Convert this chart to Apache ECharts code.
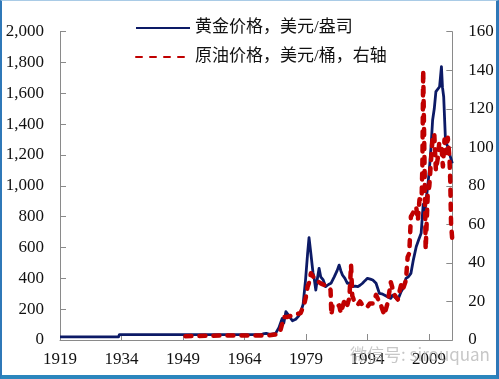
<!DOCTYPE html>
<html>
<head>
<meta charset="utf-8">
<script src="https://cdn.jsdelivr.net/npm/echarts@6/dist/echarts.min.js"></script>
<style>
html,body{margin:0;padding:0;background:#fff;}
#wrap{position:relative;width:499px;height:379px;overflow:hidden;}
#chart{position:absolute;left:0;top:0;width:499px;height:379px;}
#frame{position:absolute;left:0;top:0;width:499px;height:379px;box-sizing:border-box;
  border-left:2px solid #2f78b8;border-right:3px solid #2f78b8;border-top:1px solid #a9cbe6;border-bottom:4px solid #2b86bd;pointer-events:none;}
</style>
</head>
<body>
<div id="wrap"><div id="chart"></div><div id="frame"></div></div>
<script>
// ---- data ----
var xStartYear = 1919;
var xTickYears = ['1919','1934','1949','1964','1979','1994','2009'];
var leftTicks = ['0','200','400','600','800','1,000','1,200','1,400','1,600','1,800','2,000'];
var rightTicks = ['0','20','40','60','80','100','120','140','160'];
var goldName = '黄金价格，美元/盎司';
var oilName = '原油价格，美元/桶，右轴';

var goldYears = [1919.0,1933.3,1933.5,1968.0,1968.5,1969.3,1970.2,1971.0,1971.6,1972.4,1973.2,1973.6,1974.1,1974.9,1975.7,1976.5,1977.2,1977.7,1978.3,1978.9,1979.4,1979.75,1980.2,1980.7,1981.0,1981.4,1981.8,1982.2,1982.6,1983.2,1983.8,1984.5,1985.1,1985.9,1986.6,1987.1,1987.5,1987.9,1988.5,1989.1,1989.8,1990.4,1991.0,1991.6,1992.2,1992.8,1993.4,1994.0,1994.7,1995.3,1996.1,1996.9,1997.5,1998.1,1998.9,1999.7,2000.1,2000.6,2001.4,2002.2,2002.6,2003.4,2004.0,2004.6,2005.2,2005.9,2006.5,2007.1,2007.6,2008.0,2008.3,2008.7,2009.1,2009.5,2009.9,2010.3,2010.7,2011.1,2011.6,2011.8,2012.05,2012.3,2012.6,2013.0,2013.2,2013.6,2014.0,2014.3,2014.7];
var goldValues = [20.67,20.67,35,35,39,43,36,40,43,80,140,110,184,155,125,135,155,180,230,390,560,664,560,440,400,324,400,465,410,390,346,360,368,410,450,486,450,422,400,368,370,346,350,346,355,368,385,400,395,389,368,303,300,292,280,270,290,281,259,313,330,400,410,432,520,605,650,692,880,820,908,995,1103,1250,1427,1500,1611,1600,1643,1700,1773,1640,1578,1319,1276,1254,1211,1200,1146];

var oilYears = [1949.6,1952.0,1955.0,1958.0,1961.0,1964.0,1967.0,1970.0,1971.5,1972.6,1973.4,1973.6,1974.5,1976.1,1977.7,1978.1,1978.5,1979.0,1979.4,1979.8,1980.2,1980.6,1981.4,1981.8,1982.6,1983.0,1984.3,1985.0,1985.2,1985.5,1986.3,1986.7,1987.1,1987.5,1988.3,1988.7,1989.1,1989.6,1990.0,1990.3,1990.8,1991.6,1992.2,1992.8,1993.4,1994.0,1994.6,1995.3,1996.1,1996.5,1997.3,1997.7,1998.1,1998.5,1998.9,1999.7,2000.1,2000.6,2000.9,2001.4,2001.8,2002.2,2002.6,2003.4,2003.8,2004.2,2004.6,2005.5,2005.9,2006.3,2006.7,2007.2,2007.4,2007.6,2007.8,2008.0,2008.2,2008.7,2009.1,2009.5,2009.9,2010.3,2010.7,2011.2,2011.5,2012.0,2012.4,2012.8,2013.2,2013.6,2014.0,2014.2,2014.4,2014.7];
var oilValues = [2.0,2.1,2.2,2.3,2.3,2.3,2.3,2.4,2.8,3.6,10,12,12,13,14,14,18,22.5,27.7,30,34.6,34.6,31,30,29.4,28.5,27.7,26,13,18,17,16.4,18,14,19.9,21,18.2,22,39,23,20,18.2,20,18,17,17.3,19,19,23.4,23,18,19,13,13.9,19,30,29,23.4,24,21,25,28.5,26,31,43,45,64,67.5,69,62,73,72.7,90,140,110,80,47,75,80,93,105,107,88,95,102,102,90,104,97,105,95,83,60,52];

function pairs(xs, ys){ var out=[]; for(var i=0;i<xs.length;i++){ out.push([xs[i]-xStartYear, ys[i]]); } return out; }

var chart = echarts.init(document.getElementById('chart'), null, {renderer:'canvas'});
var serif = "'Liberation Serif','Noto Sans CJK SC',serif";
var axisGray = '#8a8a8a';
chart.setOption({
  animation:false,
  backgroundColor:'#ffffff',
  grid:{left:60, right:46.7, top:31.7, bottom:39, containLabel:false},
  legend:{
    orient:'vertical', left:130, top:13, itemWidth:54, itemHeight:20, itemGap:9,
    itemStyle:{opacity:0},
    textStyle:{fontFamily:serif, fontSize:17, color:'#111', lineHeight:20},
    data:[{name:goldName},{name:oilName}]
  },
  xAxis:{
    type:'value', min:0, max:95.7, interval:15,
    axisLine:{show:true, lineStyle:{color:axisGray, width:1}},
    axisTick:{show:true, inside:true, length:6, lineStyle:{color:axisGray}},
    splitLine:{show:false},
    axisLabel:{margin:11, fontFamily:serif, fontSize:17, color:'#111', showMaxLabel:false,
      formatter:function(v){ var k=Math.round(v/15); return Math.abs(v-k*15)<1e-6 && xTickYears[k] ? xTickYears[k] : ''; }}
  },
  yAxis:[{
    type:'value', min:0, max:2000, interval:200, position:'left',
    axisLine:{show:true, lineStyle:{color:axisGray, width:1}},
    axisTick:{show:true, inside:true, length:6, lineStyle:{color:axisGray}},
    splitLine:{show:false},
    axisLabel:{margin:16, fontFamily:serif, fontSize:17, color:'#111',
      formatter:function(v){ return leftTicks[Math.round(v/200)]; }}
  },{
    type:'value', min:0, max:160, interval:20, position:'right',
    axisLine:{show:true, lineStyle:{color:axisGray, width:1}},
    axisTick:{show:true, inside:true, length:6, lineStyle:{color:axisGray}},
    splitLine:{show:false},
    axisLabel:{margin:16, fontFamily:serif, fontSize:17, color:'#111',
      formatter:function(v){ return rightTicks[Math.round(v/20)]; }}
  }],
  series:[{
    name:goldName, type:'line', yAxisIndex:0, showSymbol:false, symbol:'none',
    data:pairs(goldYears, goldValues),
    lineStyle:{color:'#0c1a66', width:2.8, join:'round'},
    itemStyle:{color:'#0c1a66'}
  },{
    name:oilName, type:'line', yAxisIndex:1, showSymbol:false, symbol:'none',
    data:pairs(oilYears, oilValues),
    lineStyle:{color:'#c00000', width:4.5, type:[6,8], cap:'round', join:'round'},
    itemStyle:{color:'#c00000'}
  }],
  graphic:[{
    type:'text', left:350, top:346, silent:true, z:100,
    style:{text:'微信号: sirouquan', fontSize:17, fontFamily:"'Noto Sans CJK SC',sans-serif", fill:'rgba(175,175,175,0.7)'}
  }]
});
</script>
</body>
</html>
